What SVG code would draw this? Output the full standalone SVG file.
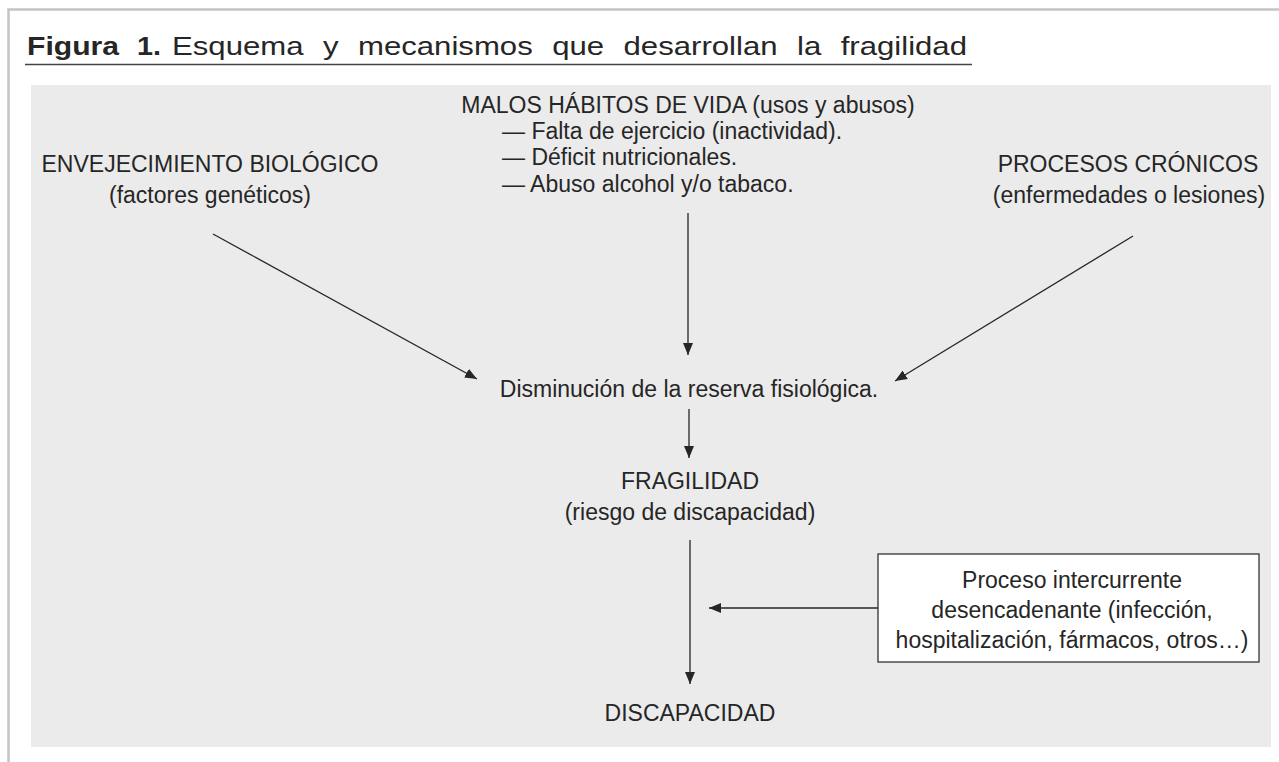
<svg xmlns="http://www.w3.org/2000/svg" width="1279" height="762" viewBox="0 0 1279 762">
<style>
  .t { font-family: "Liberation Sans", Arial, sans-serif; font-size: 23px; fill: #262626; }
  .c { text-anchor: middle; }
  .ttl { font-family: "Liberation Sans", Arial, sans-serif; font-size: 26px; fill: #262626; }
  .ln { stroke: #262626; stroke-width: 1.3; fill: none; }
  .frame { stroke: #c4c4c4; stroke-width: 2.5; fill: none; }
</style>
<defs>
  <marker id="ah" viewBox="0 0 12 10" refX="12" refY="5" markerWidth="12" markerHeight="10" markerUnits="userSpaceOnUse" orient="auto">
    <path d="M0,0 L12,5 L0,10 Z" fill="#262626"/>
  </marker>
</defs>
<rect width="1279" height="762" fill="#ffffff"/>
<path class="frame" d="M8.5,762 L8.5,9.5 L1279,9.5"/>
<g id="title">
  <text class="ttl" x="27" y="55" font-weight="bold" textLength="92" lengthAdjust="spacingAndGlyphs">Figura</text>
  <text class="ttl" x="137" y="55" font-weight="bold" textLength="24" lengthAdjust="spacingAndGlyphs">1.</text>
  <text class="ttl" x="172" y="55" word-spacing="9" textLength="795" lengthAdjust="spacingAndGlyphs">Esquema y mecanismos que desarrollan la fragilidad</text>
  <line x1="25" y1="64.5" x2="972" y2="64.5" stroke="#444" stroke-width="1.4"/>
</g>
<rect id="panel" x="31" y="85" width="1240" height="662" fill="#ebebeb"/>
<g id="node-envejecimiento">
  <text class="t c" x="210" y="172">ENVEJECIMIENTO BIOLÓGICO</text>
  <text class="t c" x="210" y="203">(factores genéticos)</text>
</g>
<g id="node-malos-habitos">
  <text class="t c" x="688" y="113">MALOS HÁBITOS DE VIDA (usos y abusos)</text>
  <text class="t" x="502" y="139">— Falta de ejercicio (inactividad).</text>
  <text class="t" x="502" y="165">— Déficit nutricionales.</text>
  <text class="t" x="502" y="192">— Abuso alcohol y/o tabaco.</text>
</g>
<g id="node-procesos-cronicos">
  <text class="t c" x="1128" y="172">PROCESOS CRÓNICOS</text>
  <text class="t c" x="1129" y="203">(enfermedades o lesiones)</text>
</g>
<g id="node-disminucion">
  <text class="t c" x="689" y="397">Disminución de la reserva fisiológica.</text>
</g>
<g id="node-fragilidad">
  <text class="t c" x="690" y="489">FRAGILIDAD</text>
  <text class="t c" x="690" y="520">(riesgo de discapacidad)</text>
</g>
<g id="node-proceso-intercurrente">
  <rect x="878" y="554" width="381" height="108" fill="#ffffff" stroke="#333" stroke-width="1.3"/>
  <text class="t c" x="1072" y="588">Proceso intercurrente</text>
  <text class="t c" x="1072" y="618">desencadenante (infección,</text>
  <text class="t c" x="1072" y="648">hospitalización, fármacos, otros…)</text>
</g>
<g id="node-discapacidad">
  <text class="t c" x="690" y="721">DISCAPACIDAD</text>
</g>
<g id="connectors">
  <line class="ln" x1="213" y1="234" x2="477" y2="379" marker-end="url(#ah)"/>
  <line class="ln" x1="688" y1="213" x2="688" y2="355" marker-end="url(#ah)"/>
  <line class="ln" x1="1133" y1="236" x2="895" y2="381" marker-end="url(#ah)"/>
  <line class="ln" x1="689" y1="409" x2="689" y2="458" marker-end="url(#ah)"/>
  <line class="ln" x1="690" y1="540" x2="690" y2="684" marker-end="url(#ah)"/>
  <line class="ln" x1="878" y1="608" x2="709" y2="608" marker-end="url(#ah)"/>
</g>
</svg>
